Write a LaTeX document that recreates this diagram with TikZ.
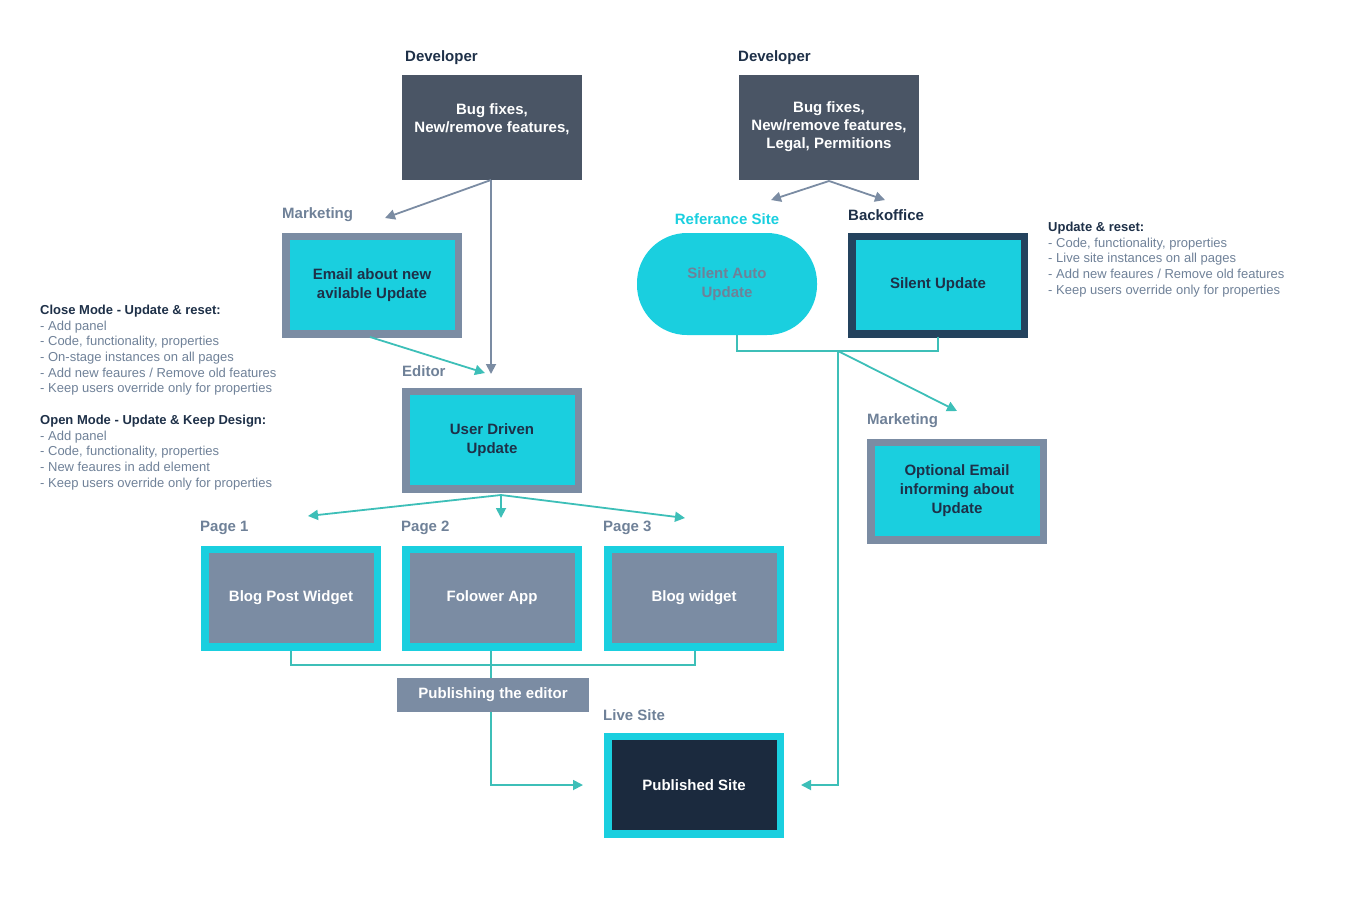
\documentclass[tikz,border=0pt]{standalone}
\usepackage{fontspec}
\setmainfont{Liberation Sans}
\usetikzlibrary{arrows.meta}
\definecolor{dev}{HTML}{4A5565}
\definecolor{cyn}{HTML}{1ACFDF}
\definecolor{gfr}{HTML}{7B8CA3}
\definecolor{teal}{HTML}{3DBFB8}
\definecolor{navy}{HTML}{1B2A3E}
\definecolor{bof}{HTML}{24435E}
\definecolor{lab}{HTML}{6F8198}
\definecolor{txt}{HTML}{1E3048}
\begin{document}
\begin{tikzpicture}[x=1pt,y=-1pt,
 box/.style={minimum width=#1, minimum height=90pt, inner sep=0pt, align=center, font=\fontsize{15}{19}\selectfont\bfseries},
 frame/.style={minimum width=180pt, minimum height=105pt, inner sep=0pt},
 lbl/.style={anchor=south west, inner sep=0pt, font=\fontsize{15}{18}\selectfont\bfseries},
 ga/.style={draw=gfr, line width=1.8pt, -{Triangle[length=10pt,width=10pt]}},
 ta/.style={draw=teal, line width=1.8pt, -{Triangle[length=10pt,width=10pt]}},
 tl/.style={draw=teal, line width=1.8pt},
 note/.style={anchor=north west, align=left, inner sep=0pt, text=lab, font=\fontsize{13}{15.6}\selectfont}
]
\useasboundingbox (0,0) rectangle (1348,906);
% Developer boxes
\node[frame, fill=dev, text=white, align=center, font=\fontsize{15}{18}\selectfont\bfseries] (dev1) at (492,127) {Bug fixes,\\New/remove features,\\[0pt]\phantom{x}};
\node[frame, fill=dev, text=white, align=center, font=\fontsize{15}{18}\selectfont\bfseries] (dev2) at (829,127) {Bug fixes,\\New/remove features,\\Legal, Permitions};
\node[lbl, text=txt] (ldev1) at (405,65) {Developer};
\node[lbl, text=txt] (ldev2) at (738,65) {Developer};
% Marketing email
\node[frame, fill=gfr] (mk1) at (372,285) {};
\node[box=165pt, fill=cyn, text=txt] (mk1i) at (372,285) {Email about new\\avilable Update};
\node[lbl, text=lab] (lmk1) at (282,222) {Marketing};
% Editor
\node[frame, fill=gfr] (ed) at (492,440) {};
\node[box=165pt, fill=cyn, text=txt] (edi) at (492,440) {User Driven\\Update};
\node[lbl, text=lab] (led) at (402,377) {Editor};
% Referance site
\node[minimum width=180pt, minimum height=102pt, rounded corners=50pt, fill=cyn, text=lab, align=center, inner sep=0pt, font=\fontsize{15}{19}\selectfont\bfseries] (ref) at (727,284) {Silent Auto\\Update};
\node[anchor=south, inner sep=0pt, text=cyn, font=\fontsize{15}{18}\selectfont\bfseries] (lref) at (727,225) {Referance Site};
% Backoffice
\node[frame, fill=bof] (bo) at (938,285) {};
\node[box=165pt, fill=cyn, text=txt] (boi) at (938,285) {Silent Update};
\node[lbl, text=txt] (lbo) at (848,221) {Backoffice};
% Marketing 2
\node[frame, fill=gfr] (mk2) at (957,491) {};
\node[box=165pt, fill=cyn, text=txt] (mk2i) at (957,491) {Optional Email\\informing about\\Update};
\node[lbl, text=lab] (lmk2) at (867,428) {Marketing};
% Pages
\foreach \n/\x/\t/\p in {p1/291/Blog Post Widget/Page 1, p2/492/Folower App/Page 2, p3/694/Blog widget/Page 3}{
 \node[frame, fill=cyn] (\n) at (\x,598) {};
 \node[box=165pt, fill=gfr, text=white] (\n i) at (\x,598) {\t};
 \node[lbl, text=lab] (l\n) at (\x-91,535) {\p};
}
% Publishing
\node[fill=gfr, text=white, minimum width=192pt, minimum height=34pt, inner sep=0pt, font=\fontsize{15}{18}\selectfont\bfseries] (pub) at (493,695) {Publishing the editor};
% Published site
\node[frame, fill=cyn] (ps) at (694,785) {};
\node[box=165pt, fill=navy, text=white] (psi) at (694,785) {Published Site};
\node[lbl, text=lab] (lps) at (603,721) {Live Site};
% Notes
\node[note] (n1) at (40,305) {\textcolor{txt}{\bfseries Close Mode - Update \& reset:}\\- Add panel\\- Code, functionality, properties\\- On-stage instances on all pages\\- Add new feaures / Remove old features\\- Keep users override only for properties};
\node[note] (n2) at (40,415) {\textcolor{txt}{\bfseries Open Mode - Update \& Keep Design:}\\- Add panel\\- Code, functionality, properties\\- New feaures in add element\\- Keep users override only for properties};
\node[note] (n3) at (1048,222) {\textcolor{txt}{\bfseries Update \& reset:}\\- Code, functionality, properties\\- Live site instances on all pages\\- Add new feaures / Remove old features\\- Keep users override only for properties};
% Connectors
\coordinate (d1b) at (491,180);
\draw[ga] (d1b) -- (385,218);
\draw[ga] (d1b) -- (491,374);
\draw[ta] (370,337) -- (485,373);
\coordinate (d2b) at (829,181);
\draw[ga] (d2b) -- (771,200);
\draw[ga] (d2b) -- (885,200);
\coordinate (eb) at (501,495);
\draw[ta] (eb) -- (308,516);
\draw[ta] (eb) -- (501,518);
\draw[ta] (eb) -- (685,518);
\draw[tl] (291,651) |- (491,665) -| (695,651);
\draw[tl] (491,651) -- (pub.north -| 491,0);
\coordinate (pb) at (491,712);
\draw[ta] (pb) |- (583,785);
\draw[tl] (737,335) |- (838,351) -| (938,337);
\coordinate (j) at (838,351);
\draw[ta] (j) |- (801,785);
\draw[ta] (j) -- (957,411);
\end{tikzpicture}
\end{document}
